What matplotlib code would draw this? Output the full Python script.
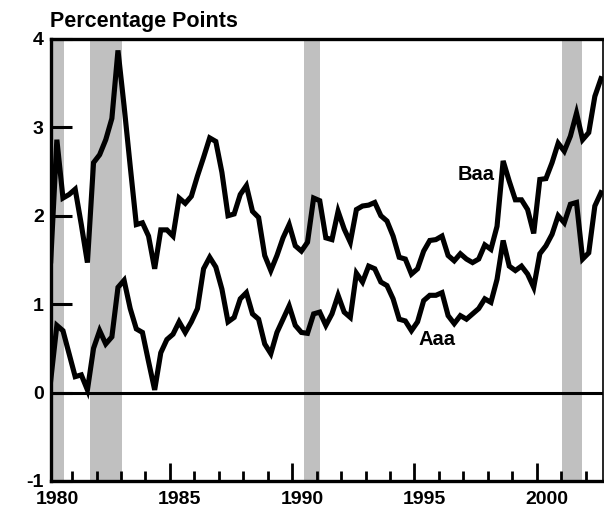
import matplotlib
matplotlib.use("Agg")
import matplotlib.pyplot as plt
import numpy as np

plt.rcParams['font.family'] = ['Liberation Sans', 'DejaVu Sans']
plt.rcParams['font.weight'] = 'bold'

# quarterly spreads, 1980Q1 - 2002Q3 (percentage points)
baa = [1.49, 2.86, 2.20, 2.24, 2.30, 1.90, 1.47, 2.60, 2.69, 2.86,
       3.10, 3.87, 3.24, 2.56, 1.90, 1.92, 1.77, 1.40, 1.84, 1.84,
       1.77, 2.20, 2.14, 2.22, 2.45, 2.66, 2.88, 2.84, 2.49, 2.00,
       2.02, 2.24, 2.34, 2.05, 1.98, 1.55, 1.38, 1.55, 1.75, 1.90,
       1.66, 1.60, 1.70, 2.20, 2.17, 1.75, 1.73, 2.05, 1.85, 1.70,
       2.07, 2.11, 2.12, 2.15, 2.00, 1.94, 1.77, 1.53, 1.51, 1.34,
       1.40, 1.60, 1.72, 1.73, 1.77, 1.55, 1.49, 1.57, 1.51, 1.47,
       1.51, 1.67, 1.62, 1.88, 2.62, 2.39, 2.18, 2.18, 2.07, 1.80,
       2.41, 2.42, 2.60, 2.82, 2.73, 2.90, 3.16, 2.86, 2.94, 3.35,
       3.55]
aaa = [0.14, 0.76, 0.70, 0.44, 0.18, 0.20, 0.03, 0.50, 0.70, 0.55,
       0.63, 1.19, 1.27, 0.95, 0.72, 0.68, 0.35, 0.03, 0.45, 0.60,
       0.66, 0.80, 0.68, 0.80, 0.95, 1.40, 1.53, 1.42, 1.17, 0.80,
       0.85, 1.06, 1.13, 0.89, 0.83, 0.55, 0.44, 0.68, 0.83, 0.98,
       0.76, 0.68, 0.67, 0.89, 0.91, 0.76, 0.89, 1.10, 0.91, 0.85,
       1.35, 1.25, 1.43, 1.40, 1.25, 1.21, 1.06, 0.83, 0.81, 0.70,
       0.80, 1.04, 1.10, 1.10, 1.13, 0.87, 0.78, 0.87, 0.83, 0.89,
       0.95, 1.06, 1.02, 1.28, 1.72, 1.43, 1.38, 1.43, 1.34, 1.19,
       1.57, 1.66, 1.79, 2.00, 1.92, 2.13, 2.15, 1.51, 1.58, 2.11,
       2.26]
dates = 1980.125 + 0.25 * np.arange(len(baa))

recessions = [(1980.0, 1980.65), (1981.75, 1983.05), (1990.5, 1991.15), (2001.05, 2001.85)]
years = list(range(1981, 2003))
major_years = [1980, 1985, 1990, 1995, 2000]

fig = plt.figure(figsize=(6.04, 5.07), dpi=100)
ax = fig.add_axes([0.084, 0.0513, 0.914, 0.872])

for start, end in recessions:
    ax.axvspan(start, end, color='#c0c0c0', lw=0, zorder=0)

ax.axhline(0, color='black', lw=2.2, zorder=1)
ax.plot(dates, baa, color='black', lw=3.7, solid_joinstyle='miter', zorder=3)
ax.plot(dates, aaa, color='black', lw=3.7, solid_joinstyle='miter', zorder=3)

ax.text(1997.5, 2.40, 'Baa', fontsize=14.5, fontweight='bold', ha='center', va='baseline')
ax.text(1995.9, 0.54, 'Aaa', fontsize=14.5, fontweight='bold', ha='center', va='baseline')

ax.set_xlim(1980.125, 2002.7)
ax.set_ylim(-1, 4)

ax.set_yticks(range(-1, 5))
ax.set_yticklabels([str(v) for v in range(-1, 5)])
ax.tick_params(axis='y', direction='in', length=15, width=2.2, pad=5, labelsize=14)

ax.set_xticks(years, minor=True)
ax.set_xticks([y for y in major_years if y > 1980])
ax.set_xticklabels([])
ax.tick_params(axis='x', which='major', direction='in', length=13, width=2.0)
ax.tick_params(axis='x', which='minor', direction='in', length=7, width=2.0)

for y in major_years:
    ax.annotate(str(y), xy=(y + 0.4, 0), xycoords=('data', 'axes fraction'),
                xytext=(0, -16.5), textcoords='offset points',
                ha='center', va='baseline', fontsize=14, fontweight='bold',
                annotation_clip=False)

for side in ['left', 'bottom', 'top']:
    ax.spines[side].set_linewidth(2.4)
ax.spines['right'].set_linewidth(1.2)

fig.text(0.083, 1 - 27 / 507, 'Percentage Points', fontsize=15.5, fontweight='bold',
         ha='left', va='baseline')

fig.savefig('out.png', dpi=100)
